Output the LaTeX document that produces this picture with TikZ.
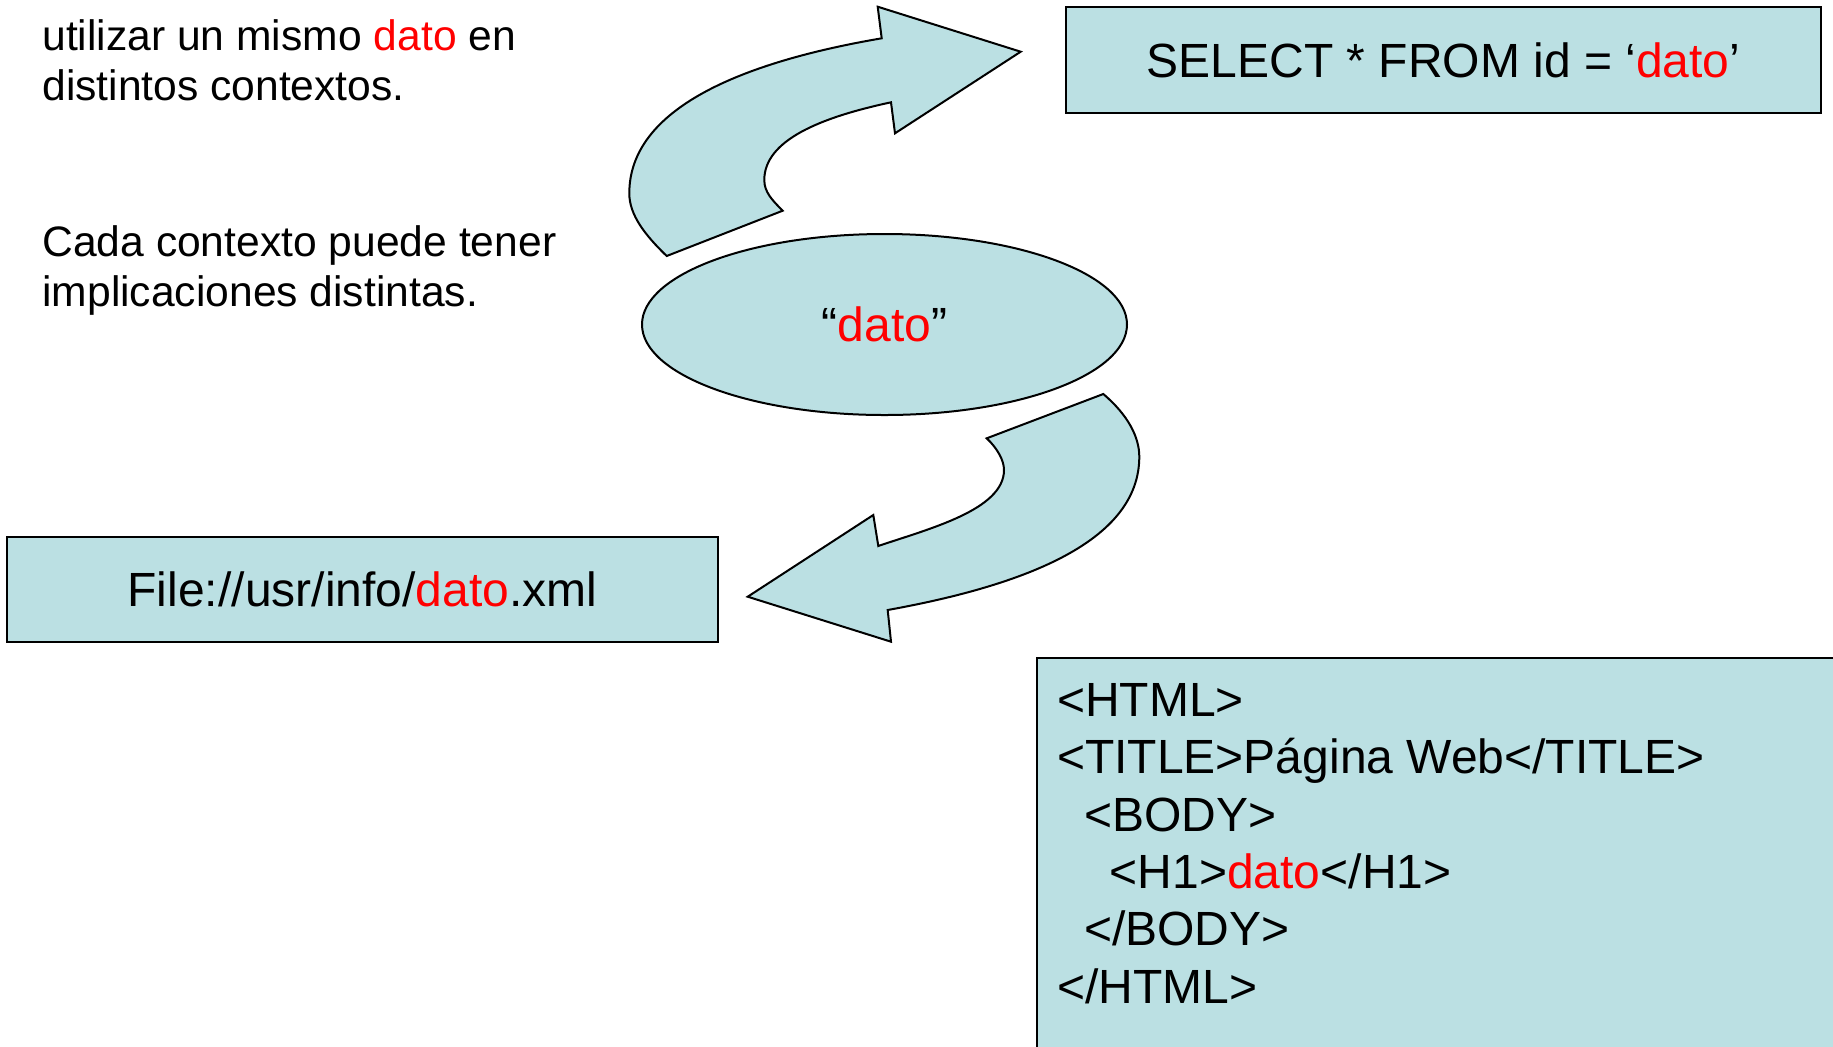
\documentclass[tikz,border=0pt]{standalone}
\usepackage{fontspec}
\setmainfont{Liberation Sans}
\usetikzlibrary{shapes.geometric}
\definecolor{boxfill}{RGB}{187,224,227}
\begin{document}
\begin{tikzpicture}[x=0.5pt,y=-0.5pt,
  shapeline/.style={draw=black,line width=1pt,fill=boxfill},
  boxtext/.style={font=\fontsize{24}{28}\selectfont},
  sidetext/.style={font=\fontsize{21.3}{25.5}\selectfont,anchor=base west,inner sep=0},
  codeline/.style={font=\fontsize{24}{28}\selectfont,anchor=base west,inner sep=0},
  arrowshape/.style={draw=black,line width=1pt,fill=boxfill,line join=miter}]
\useasboundingbox (0,0) rectangle (1833,1046);
\clip (0,0) rectangle (1833,1046);
\fill[white] (0,0) rectangle (1833,1046);

% upper curved arrow
\draw[arrowshape] (666.7,256) .. controls (645,235) and (629.3,215) .. (629.3,193.3)
 .. controls (629.3,108) and (743,62) .. (881.7,38.3)
 -- (877.7,6.7) -- (1020.7,51.7) -- (895,133.3) -- (891,102.3)
 .. controls (821,117.3) and (764.3,140) .. (764.3,180)
 .. controls (764.3,192) and (772,200) .. (782.7,210.7) -- cycle;

% lower curved arrow
\draw[arrowshape] (1103.3,394) .. controls (1128,415) and (1139.3,437) .. (1139.3,456.7)
 .. controls (1139.3,541) and (1026,585) .. (887.7,610)
 -- (891,641.7) -- (747.7,596.7) -- (873.3,515) -- (878.3,546)
 .. controls (928,529) and (1004,510) .. (1004,470)
 .. controls (1004,460) and (997,448) .. (986.7,438.3) -- cycle;

\node[shapeline, rectangle, minimum width=377.5pt, minimum height=53pt, inner sep=0, boxtext] (sel) at (1443.5,60) {SELECT * FROM id = ‘\textcolor{red}{dato}’};
\node[shapeline, ellipse, minimum width=242.5pt, minimum height=90.5pt, inner sep=0, boxtext] (dato) at (884.5,324.5) {“\textcolor{red}{dato}”};
\node[shapeline, rectangle, minimum width=355.4pt, minimum height=52.6pt, inner sep=0, boxtext] (file) at (362.4,589.2) {File://usr/info/\textcolor{red}{dato}.xml};
\node[shapeline, rectangle, anchor=north west, minimum width=420pt, minimum height=220pt] (html) at (1035.7,657) {};

\node[codeline] (l1) at (1056.8,716.6) {<HTML>};
\node[codeline] (l2) at (1056.8,773.9) {<TITLE>Página Web</TITLE>};
\node[codeline] (l3) at (1083.6,831.2) {<BODY>};
\node[codeline] (l4) at (1109.4,888.4) {<H1>\textcolor{red}{dato}</H1>};
\node[codeline] (l5) at (1083.6,945.7) {</BODY>};
\node[codeline] (l6) at (1056.8,1003) {</HTML>};

\node[sidetext] (t1) at (42,50.3) {utilizar un mismo \textcolor{red}{dato} en};
\node[sidetext] (t2) at (42,100.5) {distintos contextos.};
\node[sidetext] (t3) at (42,256) {Cada contexto puede tener};
\node[sidetext] (t4) at (42,306.3) {implicaciones distintas.};
\end{tikzpicture}
\end{document}
